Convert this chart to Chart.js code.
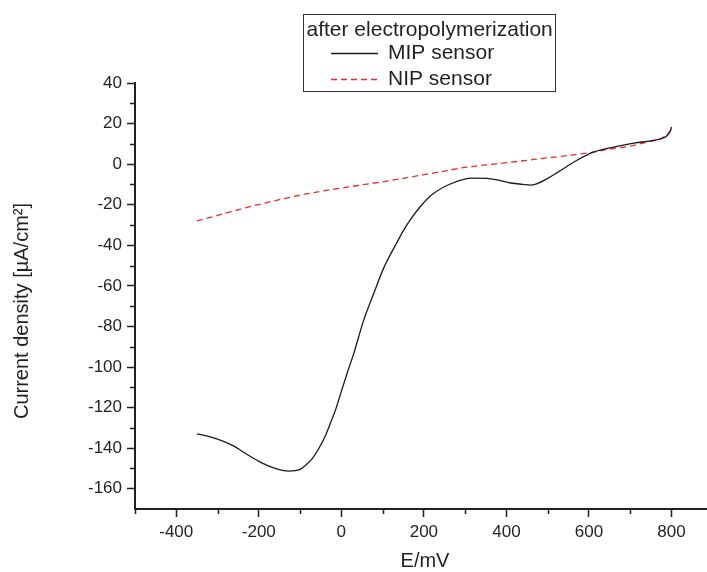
<!DOCTYPE html>
<html>
<head>
<meta charset="utf-8">
<script src="https://cdn.jsdelivr.net/npm/chart.js@4.4.1/dist/chart.umd.min.js"></script>
<style>
  html, body { margin: 0; padding: 0; background: #fff; }
</style>
</head>
<body>
<canvas id="c" width="707" height="572"></canvas>
<script>
// 電位 E [mV] と電流密度 J [µA/cm²]
const mipE = [-350, -340, -300, -260, -237, -200, -160, -128, -100, -87, -70, -55, -40, -27, -13, 0, 15, 30, 54, 78, 102, 135, 151, 167, 191, 220, 264, 317, 353, 380, 410, 440, 460, 475, 500, 523, 571, 612, 660, 709, 757, 785, 796, 800];
const mipJ = [-133, -133.3, -135.5, -139, -142, -146.5, -150, -151.3, -150.5, -148.5, -145, -140.3, -134.5, -128, -120.5, -112, -102.5, -93.4, -77, -64, -51.5, -38.5, -32.5, -27.5, -21, -15, -9.8, -6.9, -7.0, -7.9, -9.3, -10.0, -10.3, -9.6, -7.0, -4.2, 1.9, 6.0, 8.4, 10.4, 11.7, 13.4, 15.8, 18.3];

const nipE = [-350, -300, -250, -200, -150, -100, -50, 0, 50, 100, 150, 200, 250, 300, 350, 400, 450, 500, 550, 600, 650, 700, 740, 770, 785, 795, 800];
const nipJ = [-28.0, -25.3, -22.5, -19.9, -17.5, -15.3, -13.4, -11.8, -10.2, -8.7, -7.0, -5.2, -3.4, -1.6, -0.4, 0.7, 1.9, 3.1, 4.3, 5.6, 7.4, 8.9, 10.8, 12.4, 13.8, 15.8, 17.5];

const seriesLabels = ['MIP sensor', 'NIP sensor'];
const legendTitle = 'after electropolymerization';
const xTitle = 'E/mV';
const yTitle = 'Current density [µA/cm²]';

// 目盛り(ラベルは主目盛りのみ)
const xTicks = [-500, -400, -300, -200, -100, 0, 100, 200, 300, 400, 500, 600, 700, 800];
const yTicks = [-160, -150, -140, -130, -120, -110, -100, -90, -80, -70, -60, -50, -40, -30, -20, -10, 0, 10, 20, 30, 40];

const INK = '#231f20';
const FONT = '"Liberation Sans", Arial, sans-serif';
const toXY = (xs, ys) => xs.map((x, i) => ({ x, y: ys[i] }));

// 副目盛り(短い線)を描く
const minorTicks = {
  id: 'minorTicks',
  afterDraw(chart) {
    const { ctx, chartArea: a, scales: { x, y } } = chart;
    ctx.save();
    ctx.strokeStyle = INK;
    ctx.lineWidth = 1.5;
    for (const t of x.ticks) {
      if (t.value % 200 === 0) continue;
      const px = Math.round(x.getPixelForValue(t.value)) + 0.5;
      ctx.beginPath(); ctx.moveTo(px, a.bottom); ctx.lineTo(px, a.bottom + 5); ctx.stroke();
    }
    for (const t of y.ticks) {
      if (t.value % 20 === 0) continue;
      const py = Math.round(y.getPixelForValue(t.value)) + 0.5;
      ctx.beginPath(); ctx.moveTo(a.left - 5, py); ctx.lineTo(a.left, py); ctx.stroke();
    }
    ctx.restore();
  }
};

// 軸タイトル(Y軸タイトルは中央より少し下にずれている)
const axisTitles = {
  id: 'axisTitles',
  afterDraw(chart) {
    const { ctx, chartArea: a } = chart;
    ctx.save();
    ctx.fillStyle = INK;
    ctx.font = '20px ' + FONT;
    ctx.textAlign = 'center';
    ctx.textBaseline = 'middle';
    ctx.fillText(xTitle, (a.left + a.right) / 2 + 4, 561);
    ctx.translate(22, 311);
    ctx.rotate(-Math.PI / 2);
    ctx.fillText(yTitle, 0, 0);
    ctx.restore();
  }
};

// 枠付きの凡例(プロット領域に少し重なる位置)
const boxLegend = {
  id: 'boxLegend',
  afterDraw(chart) {
    const ctx = chart.ctx;
    const bx = 303.5, by = 14.5, bw = 252, bh = 77;
    ctx.save();
    ctx.fillStyle = '#fff';
    ctx.fillRect(bx, by, bw, bh);
    ctx.strokeStyle = '#333';
    ctx.lineWidth = 1;
    ctx.strokeRect(bx, by, bw, bh);
    ctx.fillStyle = INK;
    ctx.font = '21px ' + FONT;
    ctx.textBaseline = 'middle';
    ctx.textAlign = 'left';
    ctx.fillText(legendTitle, bx + 3, 30);
    chart.data.datasets.forEach((ds, i) => {
      const yy = 53.5 + i * 26;
      ctx.strokeStyle = ds.borderColor;
      ctx.lineWidth = ds.borderWidth;
      ctx.setLineDash(ds.borderDash || []);
      ctx.beginPath(); ctx.moveTo(331, yy); ctx.lineTo(378, yy); ctx.stroke();
      ctx.setLineDash([]);
      ctx.fillStyle = INK;
      ctx.fillText(ds.label, 388, yy);
    });
    ctx.restore();
  }
};

new Chart(document.getElementById('c'), {
  type: 'line',
  data: {
    datasets: [
      {
        label: seriesLabels[0],
        data: toXY(mipE, mipJ),
        borderColor: '#1a1a1a',
        borderWidth: 1.3,
        pointRadius: 0,
        cubicInterpolationMode: 'monotone'
      },
      {
        label: seriesLabels[1],
        data: toXY(nipE, nipJ),
        borderColor: '#ee2a2a',
        borderWidth: 1.3,
        borderDash: [6, 4],
        pointRadius: 0,
        cubicInterpolationMode: 'monotone'
      }
    ]
  },
  plugins: [minorTicks, axisTitles, boxLegend],
  options: {
    responsive: false,
    devicePixelRatio: 1,
    animation: false,
    events: [],
    layout: { padding: { top: 83, left: 0, right: 0, bottom: 0 } },
    scales: {
      x: {
        type: 'linear',
        min: -500,
        max: 886,
        afterBuildTicks: (s) => { s.ticks = xTicks.map(v => ({ value: v })); },
        afterFit: (s) => { s.height = 63; },
        ticks: {
          autoSkip: false,
          maxRotation: 0,
          padding: 5,
          color: INK,
          font: { family: FONT, size: 17 },
          callback: (v) => (v % 200 === 0 ? String(v) : '')
        },
        grid: {
          drawOnChartArea: false,
          tickLength: 8,
          tickWidth: 1.5,
          tickColor: (c) => (c.tick && c.tick.value % 200 === 0 ? INK : 'rgba(0,0,0,0)')
        },
        border: { color: INK, width: 2 }
      },
      y: {
        type: 'linear',
        min: -170,
        max: 40,
        afterBuildTicks: (s) => { s.ticks = yTicks.map(v => ({ value: v })); },
        afterFit: (s) => { s.width = 135; },
        ticks: {
          autoSkip: false,
          padding: 5,
          color: INK,
          font: { family: FONT, size: 17 },
          callback: (v) => (v % 20 === 0 ? String(v) : '')
        },
        grid: {
          drawOnChartArea: false,
          tickLength: 8,
          tickWidth: 1.5,
          tickColor: (c) => (c.tick && c.tick.value % 20 === 0 ? INK : 'rgba(0,0,0,0)')
        },
        border: { color: INK, width: 2 }
      }
    },
    plugins: {
      legend: { display: false },
      tooltip: { enabled: false },
      title: { display: false }
    }
  }
});
</script>
</body>
</html>
